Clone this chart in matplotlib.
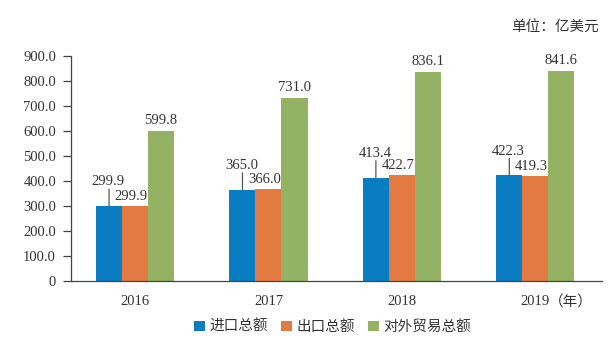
import matplotlib
matplotlib.use("Agg")
import matplotlib.pyplot as plt
import numpy as np

plt.rcParams["font.family"] = ["Liberation Serif", "Noto Sans CJK SC"]

years = ["2016", "2017", "2018", "2019"]
imports = [299.9, 365.0, 413.4, 422.3]
exports = [299.9, 366.0, 422.7, 419.3]
total = [599.8, 731.0, 836.1, 841.6]
series_names = ["进口总额", "出口总额", "对外贸易总额"]
yticks = [0, 100, 200, 300, 400, 500, 600, 700, 800, 900]
ytick_labels = ["0", "100.0", "200.0", "300.0", "400.0", "500.0",
                "600.0", "700.0", "800.0", "900.0"]

BLUE, ORANGE, GREEN = "#0A7DC2", "#E27A41", "#93B264"
TXT = "#333333"
AXC = "#444444"
FS = 10.5

fig = plt.figure(figsize=(6.16, 3.37), dpi=100)
ax = fig.add_axes([0.1153, 0.1662, 0.862, 0.6677])

x = np.arange(len(years))
w = 0.195
b1 = ax.bar(x - w, imports, w, color=BLUE, label=series_names[0])
b2 = ax.bar(x, exports, w, color=ORANGE, label=series_names[1])
b3 = ax.bar(x + w, total, w, color=GREEN, label=series_names[2])

# import labels sit higher, with a leader line down to the bar
for xi, v in zip(x - w, imports):
    ax.annotate("", xy=(xi, v), xytext=(0, 12.2), textcoords="offset points",
                arrowprops=dict(arrowstyle="-", shrinkA=0, shrinkB=0,
                                lw=0.9, color="#555555"))
    ax.annotate(f"{v:.1f}", xy=(xi, v), xytext=(-0.7, 17.5),
                textcoords="offset points", ha="center", va="center",
                fontsize=FS, color=TXT)
for xi, v in zip(x, exports):
    ax.annotate(f"{v:.1f}", xy=(xi, v), xytext=(-3, 7),
                textcoords="offset points", ha="center", va="center",
                fontsize=FS, color=TXT)
for xi, v in zip(x + w, total):
    ax.annotate(f"{v:.1f}", xy=(xi, v), xytext=(0, 7.5),
                textcoords="offset points", ha="center", va="center",
                fontsize=FS, color=TXT)

ax.set_xlim(-0.48, 3.5)
ax.set_ylim(0, 900)
ax.set_yticks(yticks)
ax.set_yticklabels(ytick_labels)
ax.set_xticks(x)
ax.set_xticklabels(years)
ax.tick_params(axis="y", direction="out", length=5.8, width=0.9,
               color=AXC, labelsize=FS, labelcolor=TXT, pad=5)
ax.tick_params(axis="x", length=0, labelsize=FS, labelcolor=TXT, pad=10)
for s in ["top", "right"]:
    ax.spines[s].set_visible(False)
for s in ["left", "bottom"]:
    ax.spines[s].set_color(AXC)
    ax.spines[s].set_linewidth(0.9)

ax.annotate("（年）", xy=(3, 0), xycoords=("data", "axes fraction"),
            xytext=(9.5, -10), textcoords="offset points",
            ha="left", va="top", fontsize=FS, color=TXT)

fig.text(0.972, 0.92, "单位：亿美元", ha="right", va="center",
         fontsize=FS, color=TXT)

fig.legend(handles=[b1, b2, b3], loc="center", bbox_to_anchor=(0.54, 0.03),
           ncol=3, frameon=False, fontsize=FS, handlelength=0.75,
           handleheight=0.75, handletextpad=0.3, columnspacing=0.9,
           labelcolor=TXT)

fig.savefig("out.png", dpi=100)
